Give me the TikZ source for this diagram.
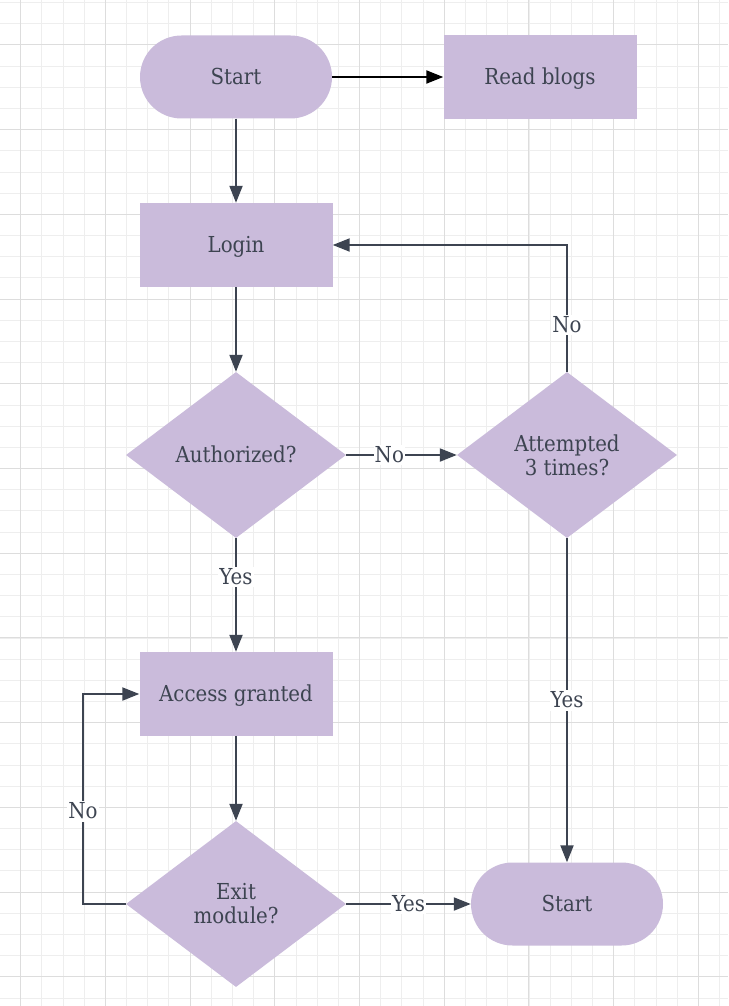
\documentclass[tikz,border=0pt]{standalone}
\usepackage{fontspec}
\setmainfont{DejaVu Serif Condensed}
\usetikzlibrary{shapes.geometric,arrows.meta}
\definecolor{boxfill}{HTML}{CABBDB}
\definecolor{ink}{HTML}{3D4451}
\definecolor{gridminor}{HTML}{EEEEEE}
\definecolor{gridmajor}{HTML}{DDDDDD}
\begin{document}
\begin{tikzpicture}[x=1pt,y=-1pt,
  every node/.style={font=\fontsize{22}{24}\selectfont, text=ink},
  oneline/.style={text height=16.5pt, text depth=2pt},
  pill/.style={oneline, draw=none, fill=boxfill, rounded corners=41.5pt, minimum width=192pt, minimum height=83pt, inner sep=0pt},
  box/.style={oneline, draw=none, fill=boxfill, minimum width=193pt, minimum height=84pt, inner sep=0pt},
  dec/.style={draw=none, fill=boxfill, shape=diamond, minimum width=220pt, minimum height=166pt, inner sep=0pt, align=center},
  conn/.style={draw=ink, line width=2pt, -{Triangle[length=17pt,width=13pt]}},
  lbl/.style={oneline, fill=white, inner sep=1pt}
]
\useasboundingbox (0,0) rectangle (728,1006);
\fill[white] (0,0) rectangle (728,1006);
% grid
\foreach \i [evaluate=\i as \x using -0.48+21.18*\i] in {0,...,34}
  \draw[gridminor, line width=1pt] (\x,0) -- (\x,1006);
\foreach \i [evaluate=\i as \y using 2.6+21.18*\i] in {0,...,47}
  \draw[gridminor, line width=1pt] (0,\y) -- (728,\y);
\foreach \i [evaluate=\i as \x using 20.7+84.7*\i] in {0,...,8}
  \draw[gridmajor, line width=1pt] (\x,0) -- (\x,1006);
\foreach \i [evaluate=\i as \y using 45+84.7*\i] in {0,...,11}
  \draw[gridmajor, line width=1pt] (0,\y) -- (728,\y);
% nodes
\node[pill] (start1) at (236,77) {Start};
\node[box] (blogs) at (540,77) {Read blogs};
\node[box] (login) at (236,245) {Login};
\node[dec, oneline] (auth) at (236,455) {Authorized?};
\node[dec] (attempt) at (567,455) {Attempted\\3 times?};
\node[box] (access) at (236,694) {Access granted};
\node[dec] (exitm) at (236,904) {Exit\\module?};
\node[pill] (start2) at (567,904) {Start};
\coordinate (loopA) at (567,245);
\coordinate (loopB) at (83,904);
\coordinate (loopC) at (83,694);
% connectors
\draw[conn, draw=black, -{Triangle[length=17pt,width=13pt]}] (start1.east) -- (blogs.west);
\draw[conn] (start1.south) -- (login.north);
\draw[conn] (login.south) -- (auth.north);
\draw[conn] (auth.east) -- node[lbl, pos=0.39] {No} (attempt.west);
\draw[conn] (attempt.north) -- node[lbl, pos=0.37] {No} (loopA) -- (login.east);
\draw[conn] (auth.south) -- node[lbl, pos=0.34] {Yes} (access.north);
\draw[conn] (attempt.south) -- node[lbl, pos=0.5] {Yes} (start2.north);
\draw[conn] (access.south) -- (exitm.north);
\draw[conn] (exitm.west) -- (loopB) -- node[lbl, pos=0.44] {No} (loopC) -- (access.west);
\draw[conn] (exitm.east) -- node[lbl, pos=0.5] {Yes} (start2.west);
\end{tikzpicture}
\end{document}
